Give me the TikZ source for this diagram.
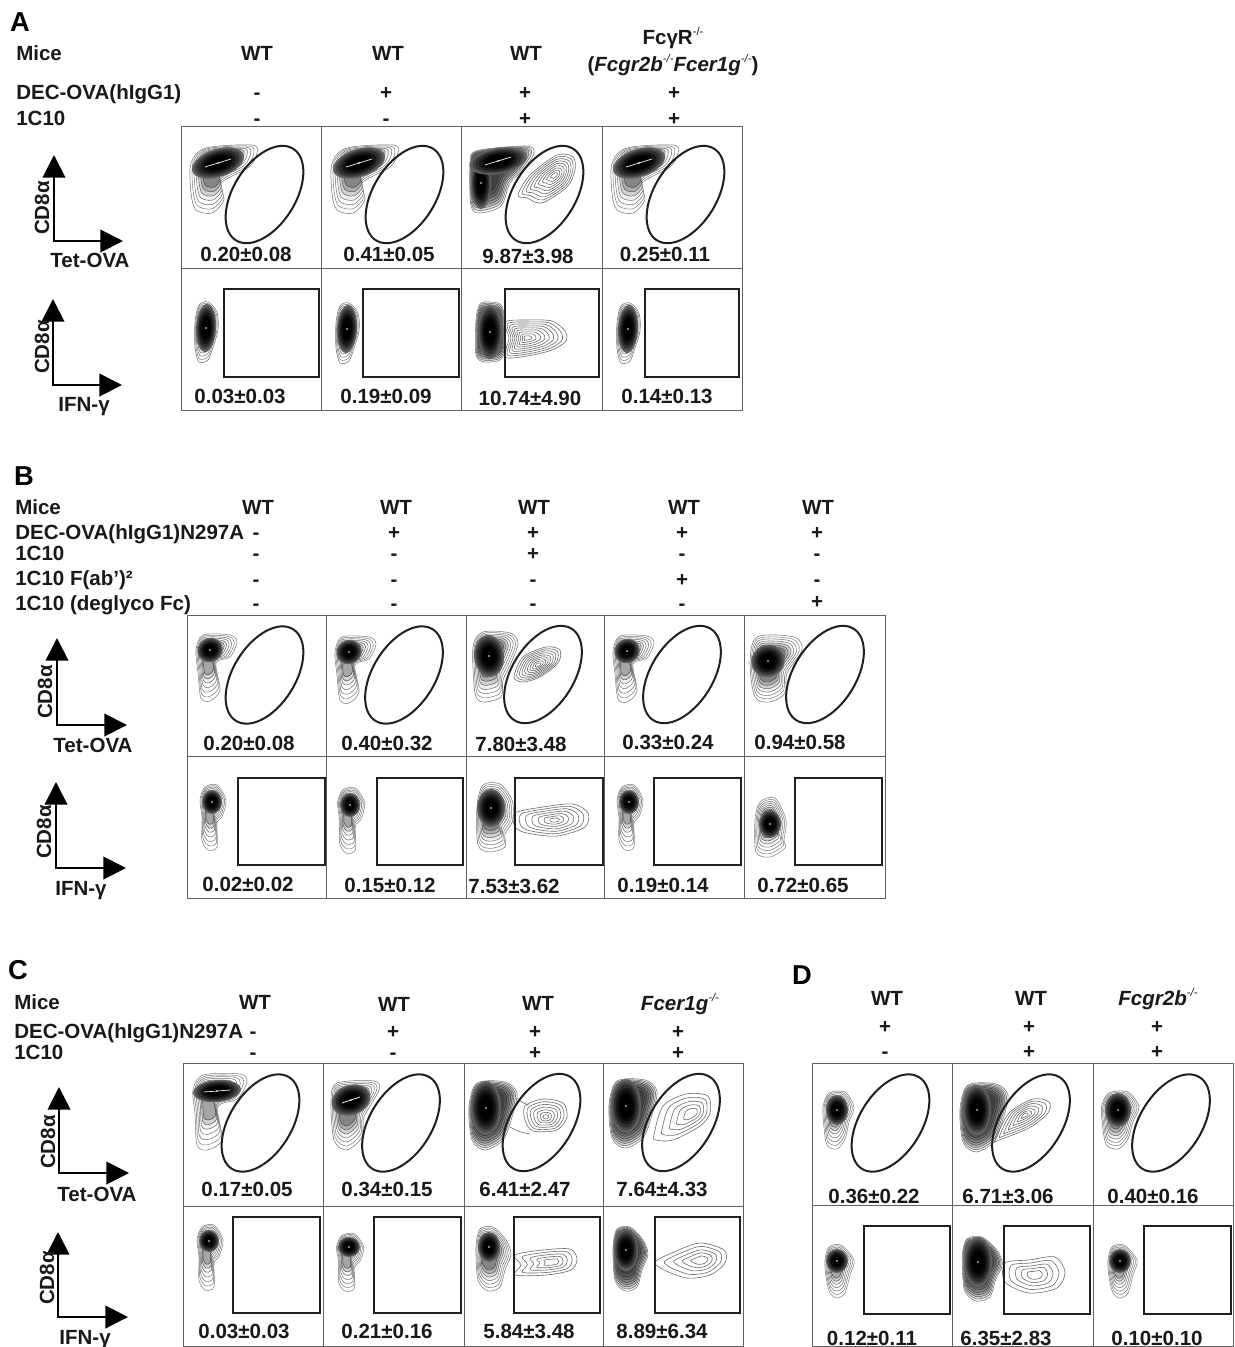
\documentclass[tikz,border=0pt]{standalone}
\usepackage{fontspec}
\setmainfont{Liberation Sans}
\usetikzlibrary{arrows.meta}
\newcount\nn
\tikzset{
 txt/.style={inner sep=0pt,font=\fontsize{15.4}{18}\selectfont\bfseries,text=black!90},
 letter/.style={inner sep=0pt,font=\fontsize{20.5}{22}\selectfont\bfseries},
 frame/.style={draw=black!62,line width=.75pt},
 gate/.style={draw=black!88,line width=1.5pt},
 axis/.style={draw=black,line width=1.5pt,line join=miter,{Triangle[length=17pt,width=17pt]}-{Triangle[length=17pt,width=17pt]}},
 posline/.style={draw=black!58,line width=.45pt}
}
\def\ssp{\raisebox{.42em}{\fontsize{8.5}{9}\selectfont\mdseries -/-}}
\def\lab#1#2#3{\global\advance\nn by1 \node[txt,anchor=base] (t\the\nn) at (#1,#2+7) {#3};}
\def\labl#1#2#3{\global\advance\nn by1 \node[txt,anchor=base west] (t\the\nn) at (#1,#2+7) {#3};}
\def\letr#1#2#3{\global\advance\nn by1 \node[letter,anchor=base] (t\the\nn) at (#1,#2+9) {#3};}
\def\rotl#1#2#3{\global\advance\nn by1 \node[txt,rotate=90] (t\the\nn) at (#1,#2) {#3};}
% density levels
\def\levD{1/white/black!55,.92/white/black!50,.84/white/black!55,.76/black!6/black!55,.68/black!18/black!60,.6/black!32/black!65,.52/black!48/black!70}
\def\levH{1/black!4/black!55,.95/black!15/black!60,.9/black!28/black!65,.85/black!40/black!70,.8/black!50/black!75,.74/black!60/black!75,.68/black!68/black!80,.6/black!75/black!80}
\def\levL{1/white/black!50,.91/white/black!50,.82/white/black!55,.73/white/black!55,.64/black!5/black!60,.56/black!18/black!65,.48/black!35/black!70}
\def\pA{1,.89,.78,.67,.56,.45,.34,.23,.12}
\def\pB{1,.8,.6,.42,.24}
\def\pC{1,.85,.7,.55,.4,.26,.13}
% shapes
\def\shW{(-25,4)(-10,-11)(36,-14)(41,-6)(33,8)(5,24)(8,41)(-4,54)(-20,51)(-25,34)}
\def\shA{(-13,3)(-7,-12)(43,-17)(51,-10)(40,7)(27,20)(18,43)(-3,50)(-12,43)}
\def\shO{(-10,0)(-6,-17)(3,-20)(12,-10)(13,8)(8,25)(3,38)(-6,40)(-10,25)}
\def\shRR{(-14,-10)(-10,-26)(0,-28)(12,-24)(15,0)(15,20)(10,30)(-5,32)(-14,25)}
\def\shB{(-12,0)(-5,-15)(22,-15)(29,-8)(22,7)(8,13)(12,40)(2,51)(-7,48)(-10,23)}
\def\shC{(-15,-3)(-5,-18)(22,-17)(30,-7)(23,13)(15,30)(13,47)(-5,52)(-13,43)}
\def\shD{(-17,3)(-10,-23)(27,-23)(35,-10)(20,13)(18,33)(3,42)(-12,37)}
\def\shE{(-10,0)(-5,-13)(7,-15)(16,0)(12,17)(7,23)(7,47)(-2,50)(-8,40)(-8,17)}
\def\shF{(-13,0)(-7,-22)(10,-23)(22,-7)(23,13)(15,27)(15,40)(0,45)(-12,38)}
\def\shG{(-13,0)(-8,-18)(7,-22)(18,0)(16,20)(17,28)(2,37)(-12,32)}
\def\shH{(-17,-2)(-7,-17)(30,-18)(37,-10)(27,7)(8,15)(12,48)(-3,58)(-13,53)(-15,22)}
\def\shI{(-16,0)(-10,-17)(27,-19)(32,-10)(17,17)(15,37)(0,50)(-13,40)}
\def\shJ{(-16,2)(-8,-22)(20,-23)(32,-12)(27,12)(18,35)(0,45)(-13,35)}
\def\shM{(-12,0)(-8,-18)(5,-20)(18,-7)(23,7)(17,23)(12,40)(0,44)(-10,33)}
\def\shR{(-12,0)(-6,-14)(10,-15)(19,0)(14,15)(10,32)(2,42)(-8,38)(-11,20)}
\def\shT{(-10,0)(-6,-13)(6,-15)(19,0)(15,15)(10,33)(2,38)(-5,33)(-9,17)}
% positive populations
\def\pPa{(-37,20)(-25,0)(2,-20)(18,-18)(20,-5)(12,12)(-13,28)(-28,23)}
\def\pPb{(-22,-16)(0,-18)(25,-17)(38,-7)(39,3)(25,12)(0,18)(-22,19)(-18,0)}
\def\pPc{(-24,12)(-15,-8)(8,-18)(22,-15)(20,-2)(2,12)(-15,17)}
\def\pPd{(-40,-7)(-12,-13)(18,-16)(33,-7)(30,7)(2,16)(-28,13)(-40,7)}
\def\pPe{(-21,-11)(-3,-18)(17,-14)(21,0)(11,13)(-13,14)(-21,3)}
\def\pPf{(-39,22)(-30,-7)(-7,-19)(15,-17)(17,0)(7,13)(-20,27)(-37,27)}
\def\pPg{(-38,-7)(-10,-12)(17,-13)(24,-3)(18,8)(-7,13)(-38,13)(-32,3)}
\def\pPh{(-47,2)(-28,-8)(-2,-17)(22,-10)(23,3)(8,15)(-15,18)(-38,10)}
\def\pPi{(-30,25)(-16,-2)(8,-16)(24,-13)(23,-2)(4,13)(-26,25)}
\def\pPj{(-30,-12)(-6,-15)(20,-18)(30,-3)(22,13)(-6,18)(-30,7)}
% drawing macros: x y xscale yscale shape levels
\def\blob#1#2#3#4#5#6{\expandafter\blobi\expandafter{#5}{#1}{#2}{#3}{#4}{#6}}
\def\blobi#1#2#3#4#5#6{%
 \foreach \s/\f/\d in #6 {\path[fill=\f,draw=\d,line width=.4pt,shift={(#2,#3)},xscale=#4*\s,yscale=#5*\s] plot[smooth cycle] coordinates {#1};}}
% dense core: x y rx ry rotation
\def\core#1#2#3#4#5{%
 \foreach \s/\f in {1/black!62,.9/black!72,.8/black!82,.68/black!90,.56/black!96,.44/black}{\fill[\f,shift={(#1,#2)},rotate=#5] (0,0) ellipse [x radius=#3*\s,y radius=#4*\s];}%
 \fill[white,shift={(#1,#2)}] (0,0) circle (.8);}
\def\popn#1#2#3#4#5#6{\expandafter\popi\expandafter{#5}{#1}{#2}{#3}{#4}{#6}}
\def\popi#1#2#3#4#5#6{%
 \foreach \s in #6 {\path[posline,shift={(#2,#3)},xscale=#4*\s,yscale=#5*\s] plot[smooth cycle] coordinates {#1};}}
\def\slv#1#2#3#4{\draw[white,line width=.5pt,shift={(#1,#2)}] (-#3,#4) -- (#3,-#4);}
\def\gell#1#2{\draw[gate,shift={(#1,#2)},rotate=58] (0,0) ellipse [x radius=54,y radius=31];}
\def\gbox#1#2#3#4{\draw[gate] (#1,#2) rectangle (#3,#4);}
\begin{document}
\begin{tikzpicture}[x=.75pt,y=-.75pt]
\useasboundingbox (0,0) rectangle (1235,1347);
\fill[white] (0,0) rectangle (1235,1347);

%% ---------- A
\letr{20}{22}{A}
\labl{16}{53}{Mice}
\lab{257}{53}{WT}\lab{388}{53}{WT}\lab{526}{53}{WT}
\lab{673}{37}{FcγR\ssp}
\lab{673}{64}{(\textit{Fcgr2b\ssp Fcer1g\ssp})}
\labl{16}{92}{DEC-OVA(hIgG1)}
\labl{16}{118}{1C10}
\lab{257}{92}{-}\lab{386}{92}{+}\lab{525}{92}{+}\lab{674}{92}{+}
\lab{257}{118}{-}\lab{386}{118}{-}\lab{525}{118}{+}\lab{674}{118}{+}
\foreach \a/\b in {181/321,321/461,461/602,602/742}{\draw[frame] (\a,126) rectangle (\b,268);\draw[frame] (\a,268) rectangle (\b,410);}
\blob{216}{159}{1}{1}{\shW}{\levD}\core{218}{163}{27}{14}{18}\slv{218}{163}{13}{4}
\blob{357}{159}{1}{1}{\shW}{\levD}\core{359}{163}{27}{14}{18}\slv{359}{163}{13}{4}
\blob{483}{163}{1}{1}{\shA}{\levH}\core{481}{183}{10}{26}{0}\core{498}{161}{29}{13}{10}\slv{498}{161}{13}{4}
\popn{555}{175}{1}{1}{\pPa}{\pA}
\blob{637}{159}{1}{1}{\shW}{\levD}\core{639}{163}{27}{14}{18}\slv{639}{163}{13}{4}
\gell{264.5}{194.5}\gell{404.5}{194.5}\gell{544.5}{194.5}\gell{685.5}{194.5}
\blob{205}{322}{1}{1}{\shO}{\levD}\core{206}{328}{10}{24}{-3}
\blob{346}{323}{1}{1}{\shO}{\levD}\core{347}{329}{10}{24}{-3}
\blob{490}{330}{1}{1}{\shRR}{\levH}\core{490}{332}{12}{27}{0}
\popn{527}{338}{1}{1}{\pPb}{\pA}
\blob{627}{323}{1}{1}{\shO}{\levD}\core{628}{329}{10}{24}{-3}
\gbox{224}{289}{319}{377}\gbox{363}{289}{459}{377}\gbox{505}{289}{599}{377}\gbox{645}{289}{739}{377}
\lab{246}{254}{0.20±0.08}\lab{389}{254}{0.41±0.05}\lab{528}{256}{9.87±3.98}\lab{665}{254}{0.25±0.11}
\lab{240}{396}{0.03±0.03}\lab{386}{396}{0.19±0.09}\lab{530}{398}{10.74±4.90}\lab{667}{396}{0.14±0.13}
\coordinate (a1t) at (54,155);\coordinate (a1o) at (54,241);\coordinate (a1r) at (123,241);
\draw[axis] (a1t) -- (a1o) -- (a1r);
\coordinate (a2t) at (53,299);\coordinate (a2o) at (53,385);\coordinate (a2r) at (122,385);
\draw[axis] (a2t) -- (a2o) -- (a2r);
\rotl{42}{208}{CD8α}\rotl{42}{347}{CD8α}
\lab{90}{260}{Tet-OVA}\lab{84}{404}{IFN-γ}

%% ---------- B
\letr{24}{476}{B}
\labl{15}{507}{Mice}\labl{15}{532}{DEC-OVA(hIgG1)N297A}\labl{15}{553}{1C10}\labl{15}{578}{1C10 F(ab’)²}\labl{15}{603}{1C10 (deglyco Fc)}
\lab{258}{507}{WT}\lab{396}{507}{WT}\lab{534}{507}{WT}\lab{684}{507}{WT}\lab{818}{507}{WT}
\lab{256}{532}{-}\lab{394}{532}{+}\lab{533}{532}{+}\lab{682}{532}{+}\lab{817}{532}{+}
\lab{256}{553}{-}\lab{394}{553}{-}\lab{533}{553}{+}\lab{682}{553}{-}\lab{817}{553}{-}
\lab{256}{579}{-}\lab{394}{579}{-}\lab{533}{579}{-}\lab{682}{579}{+}\lab{817}{579}{-}
\lab{256}{603}{-}\lab{394}{603}{-}\lab{533}{603}{-}\lab{682}{603}{-}\lab{817}{601}{+}
\foreach \a/\b in {187/326,326/466,466/604,604/744,744/885}{\draw[frame] (\a,615) rectangle (\b,756);\draw[frame] (\a,756) rectangle (\b,898);}
\blob{208}{650}{1}{1}{\shB}{\levL}\core{210}{650}{13}{12}{30}
\blob{347}{652}{1}{1}{\shB}{\levL}\core{349}{652}{13}{12}{30}
\blob{488}{650}{1}{1}{\shC}{\levD}\core{489}{656}{15}{21}{5}
\popn{538}{665}{1}{1}{\pPc}{\pA}
\blob{625}{651}{1}{1}{\shB}{\levL}\core{627}{651}{13}{12}{30}
\blob{767}{660}{1}{1}{\shD}{\levD}\core{768}{661}{17}{16}{30}
\gell{264.5}{675}\gell{404}{675}\gell{543}{674.5}\gell{682}{674.5}\gell{825}{674.5}
\blob{210}{800}{1}{1}{\shE}{\levL}\core{212}{802}{10}{12}{0}
\blob{348}{803}{1.05}{1}{\shE}{\levL}\core{350}{805}{10}{12}{0}
\blob{490}{807}{1}{1}{\shF}{\levD}\core{491}{808}{14}{19}{0}
\popn{555}{820}{1}{1}{\pPd}{\pC}
\blob{627}{800}{1}{1}{\shE}{\levL}\core{629}{802}{10}{12}{0}
\blob{768}{820}{1}{1}{\shG}{\levL}\core{770}{824}{11}{14}{0}
\gbox{238}{778}{325}{865}\gbox{377}{778}{463}{865}\gbox{515}{778}{603}{865}\gbox{654}{778}{741}{865}\gbox{795}{778}{882}{865}
\lab{249}{743}{0.20±0.08}\lab{387}{743}{0.40±0.32}\lab{521}{744}{7.80±3.48}\lab{668}{742}{0.33±0.24}\lab{800}{742}{0.94±0.58}
\lab{248}{884}{0.02±0.02}\lab{390}{885}{0.15±0.12}\lab{514}{886}{7.53±3.62}\lab{663}{885}{0.19±0.14}\lab{803}{885}{0.72±0.65}
\coordinate (b1t) at (57,638);\coordinate (b1o) at (57,725);\coordinate (b1r) at (127,725);
\draw[axis] (b1t) -- (b1o) -- (b1r);
\coordinate (b2t) at (56,782);\coordinate (b2o) at (56,868);\coordinate (b2r) at (126,868);
\draw[axis] (b2t) -- (b2o) -- (b2r);
\rotl{45}{692}{CD8α}\rotl{44}{832}{CD8α}
\lab{93}{745}{Tet-OVA}\lab{81}{888}{IFN-γ}

%% ---------- C
\letr{18}{970}{C}
\labl{14}{1002}{Mice}\labl{14}{1031}{DEC-OVA(hIgG1)N297A}\labl{14}{1052}{1C10}
\lab{255}{1002}{WT}\lab{394}{1004}{WT}\lab{538}{1003}{WT}
\lab{680}{1003}{\textit{Fcer1g\ssp}}
\lab{253}{1031}{-}\lab{393}{1031}{+}\lab{535}{1031}{+}\lab{678}{1031}{+}
\lab{253}{1052}{-}\lab{393}{1052}{-}\lab{535}{1052}{+}\lab{678}{1052}{+}
\foreach \a/\b in {183/323,323/464,464/603,603/743}{\draw[frame] (\a,1063) rectangle (\b,1206);\draw[frame] (\a,1206) rectangle (\b,1346.5);}
\blob{210}{1092}{1}{1}{\shH}{\levL}\core{217}{1091}{24}{11}{5}\slv{217}{1091}{13}{1}
\blob{347}{1100}{1}{1}{\shI}{\levD}\core{351}{1100}{20}{15}{20}\slv{351}{1100}{9}{3}
\blob{485}{1105}{1}{1}{\shJ}{\levH}\core{486}{1108}{15}{27}{0}
\popn{546}{1117}{1}{1}{\pPe}{\pC}
\coordinate (c3a) at (517,1098);\coordinate (c3b) at (529,1105);\coordinate (c3c) at (510,1127);\coordinate (c3d) at (530,1134);
\draw[posline] (c3a) to[bend right=15] (c3b);\draw[posline] (c3c) to[bend right=10] (c3d);
\blob{625}{1103}{1}{1}{\shJ}{\levH}\core{626}{1106}{15}{27}{0}
\popn{693}{1113}{1}{1}{\pPf}{\pB}
\gell{260.5}{1123}\gell{401}{1123}\gell{541.5}{1122.5}\gell{681}{1122.5}
\blob{207}{1240}{1}{1}{\shE}{\levL}\core{209}{1241}{10}{11}{0}
\blob{347}{1247}{1.05}{.88}{\shE}{\levL}\core{349}{1247}{11}{10}{0}
\blob{488}{1247}{1}{1}{\shM}{\levD}\core{489}{1247}{11}{15}{0}
\popn{553}{1262}{1}{1}{\pPg}{\pB}
\blob{625}{1247}{1}{1}{\shM}{\levH}\core{626}{1250}{12}{21}{0}
\popn{702}{1260}{1}{1}{\pPh}{\pB}
\gbox{233}{1217}{320}{1313}\gbox{374}{1217}{461}{1313}\gbox{514}{1217}{600}{1313}\gbox{655}{1217}{740}{1313}
\lab{247}{1189}{0.17±0.05}\lab{387}{1189}{0.34±0.15}\lab{525}{1189}{6.41±2.47}\lab{662}{1189}{7.64±4.33}
\lab{244}{1331}{0.03±0.03}\lab{387}{1331}{0.21±0.16}\lab{529}{1331}{5.84±3.48}\lab{662}{1331}{8.89±6.34}
\coordinate (c1t) at (59,1087);\coordinate (c1o) at (59,1173);\coordinate (c1r) at (129,1173);
\draw[axis] (c1t) -- (c1o) -- (c1r);
\coordinate (c2t) at (58,1232);\coordinate (c2o) at (58,1317);\coordinate (c2r) at (128,1317);
\draw[axis] (c2t) -- (c2o) -- (c2r);
\rotl{48}{1142}{CD8α}\rotl{47}{1278}{CD8α}
\lab{97}{1194}{Tet-OVA}\lab{85}{1337}{IFN-γ}

%% ---------- D
\letr{802}{975}{D}
\lab{887}{998}{WT}\lab{1031}{998}{WT}\lab{1158}{998}{\textit{Fcgr2b\ssp}}
\lab{885}{1026}{+}\lab{1029}{1026}{+}\lab{1157}{1026}{+}
\lab{885}{1051}{-}\lab{1029}{1051}{+}\lab{1157}{1051}{+}
\foreach \a/\b in {812/952,952/1093,1093/1233}{\draw[frame] (\a,1063) rectangle (\b,1205);\draw[frame] (\a,1205) rectangle (\b,1346.5);}
\blob{835}{1107}{1}{1}{\shR}{\levL}\core{837}{1110}{11}{15}{0}
\blob{976}{1107}{1}{1}{\shJ}{\levH}\core{977}{1110}{14}{25}{0}
\popn{1025}{1115}{1}{1}{\pPi}{\pC}
\blob{1116}{1107}{1.2}{1}{\shR}{\levD}\core{1118}{1110}{13}{17}{0}
\gell{890.5}{1123}\gell{1031}{1123}\gell{1171}{1123}
\blob{835}{1260}{1}{1}{\shT}{\levL}\core{837}{1261}{11}{12}{0}
\blob{976}{1257}{1.15}{1}{\shM}{\levH}\core{978}{1262}{14}{25}{0}
\popn{1035}{1275}{1}{1}{\pPj}{\pB}
\blob{1118}{1260}{1}{1}{\shT}{\levL}\core{1120}{1261}{11}{12}{0}
\gbox{864}{1226}{950}{1314}\gbox{1004}{1226}{1090}{1314}\gbox{1144}{1226}{1231}{1314}
\lab{874}{1196}{0.36±0.22}\lab{1008}{1196}{6.71±3.06}\lab{1153}{1196}{0.40±0.16}
\lab{872}{1338}{0.12±0.11}\lab{1006}{1338}{6.35±2.83}\lab{1157}{1338}{0.10±0.10}
\end{tikzpicture}
\end{document}
